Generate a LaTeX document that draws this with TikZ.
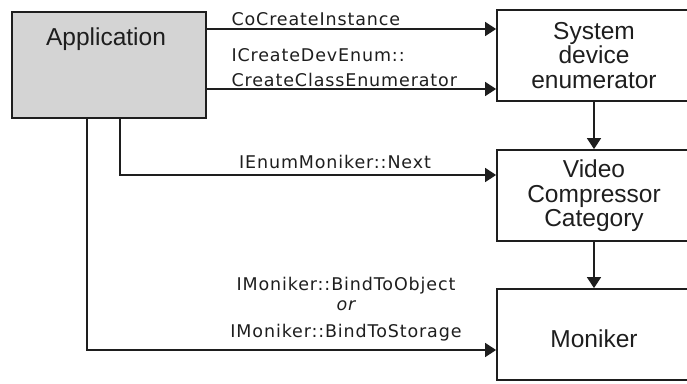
\documentclass[tikz,border=0pt]{standalone}
\usepackage{fontspec}
\setmainfont{Liberation Sans}
\newfontfamily\lblfont[LetterSpace=5]{DejaVu Sans}
\usetikzlibrary{arrows.meta}
\definecolor{appgray}{HTML}{D4D4D4}
\definecolor{inkgray}{HTML}{1E1E1E}

\begin{document}
\begin{tikzpicture}[x=1pt,y=-1pt,
  box/.style={draw=inkgray, line width=1.8pt, minimum width=194pt, minimum height=91pt, inner sep=0pt},
  boxtext/.style={font=\fontsize{24.5}{24.5}\selectfont, text=inkgray, align=center},
  lbl/.style={font=\lblfont\fontsize{17.5}{25}\selectfont, text=inkgray},
  conn/.style={draw=inkgray, line width=1.6pt, -{Triangle[length=11pt,width=14pt]}}]
\useasboundingbox (0,0) rectangle (687,383);

% boxes
\node [box, fill=appgray, minimum height=106pt] (app) at (109,65) {};
\node [boxtext, anchor=base] (apptext) at (106,45) {Application};
\node [box] (sde) at (594,55.5) {};
\node [box] (vcc) at (594,195.5) {};
\node [box] (mon) at (594,334.5) {};
\node [boxtext] (sdetext) at (594,55.5) {System\\device\\enumerator};
\node [boxtext] (vcctext) at (594,196) {Video\\Compressor\\Category};
\node [boxtext, anchor=base] (montext) at (594,347) {Moniker};

% connectors
\coordinate (c1) at (0,29);
\coordinate (c2) at (0,89);
\coordinate (c3) at (120,175);
\coordinate (c4) at (87,350);
\draw [conn] (app.east |- c1) -- (sde.west |- c1);
\draw [conn] (app.east |- c2) -- (sde.west |- c2);
\draw [conn] (app.south -| c3) -- (c3) -- (vcc.west |- c3);
\draw [conn] (app.south -| c4) -- (c4) -- (mon.west |- c4);
\draw [conn] (sde.south) -- (vcc.north);
\draw [conn] (vcc.south) -- (mon.north);

% labels
\node [lbl, anchor=base west] (l1) at (228,25) {CoCreateInstance};
\node [lbl, anchor=base west] (l2) at (228,61) {ICreateDevEnum::};
\node [lbl, anchor=base west] (l3) at (228,86) {CreateClassEnumerator};
\node [lbl, anchor=base] (l4) at (335,168) {IEnumMoniker::Next};
\node [lbl, anchor=base] (l5) at (346,290) {IMoniker::BindToObject};
\node [lbl, anchor=base] (l6) at (346,310) {\itshape or};
\node [lbl, anchor=base] (l7) at (346,337) {IMoniker::BindToStorage};
\end{tikzpicture}
\end{document}
